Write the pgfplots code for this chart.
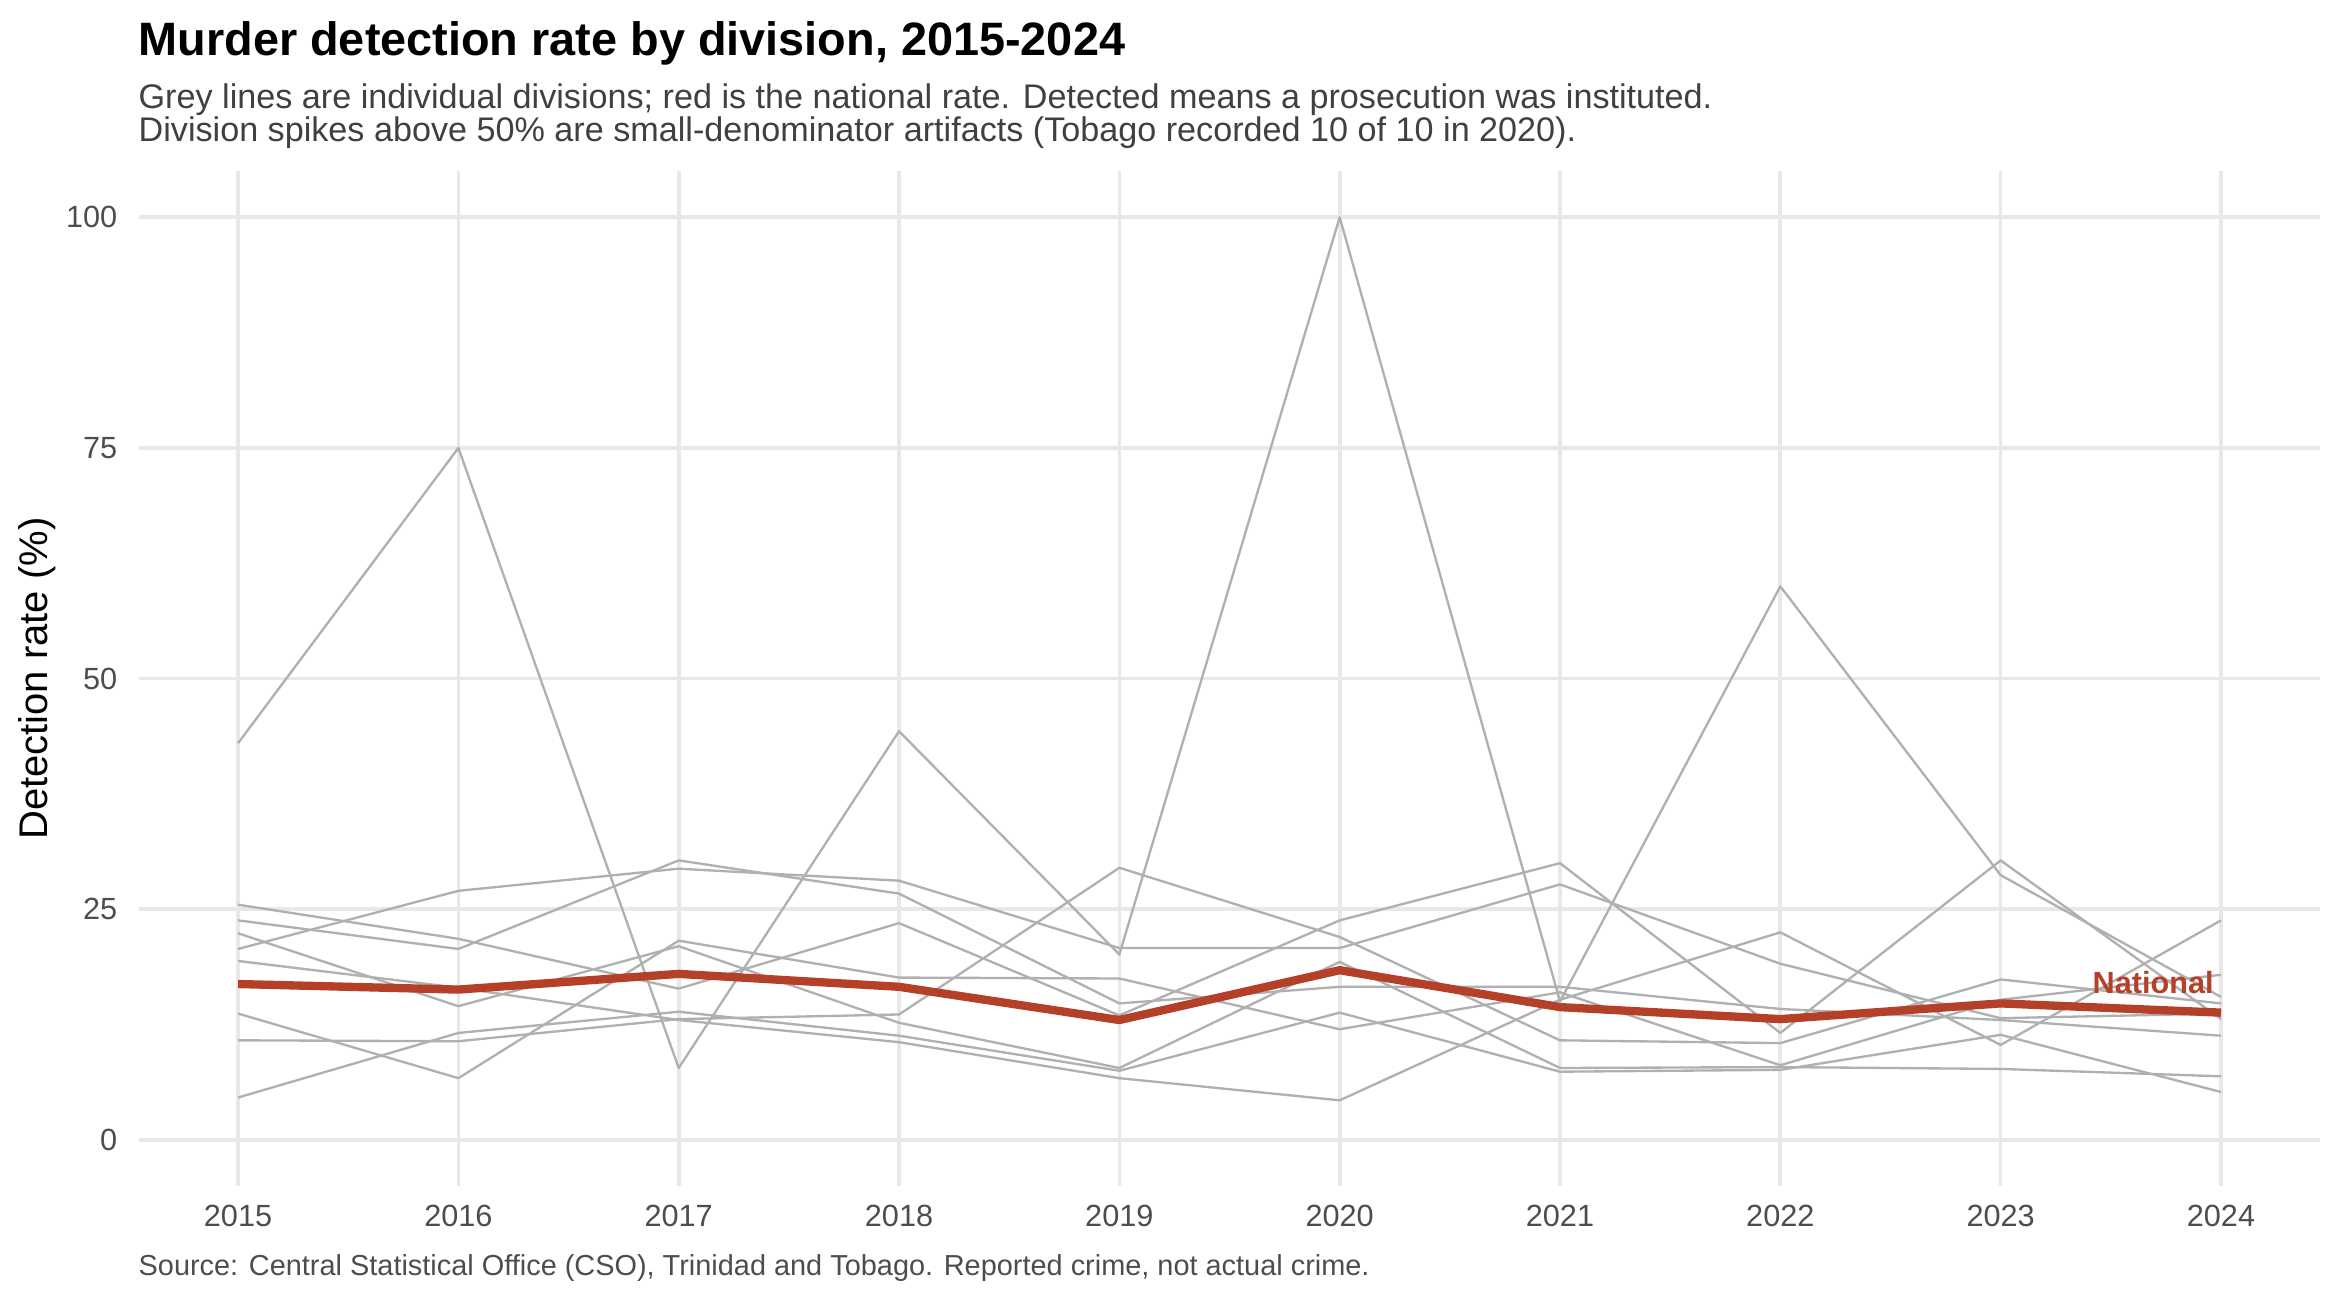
\documentclass[border=0pt]{standalone}
\usepackage{pgfplots}
\pgfplotsset{compat=1.18}
\usepackage{pgfplotstable}
\usepackage{fontspec}
\setmainfont{Liberation Sans}
\definecolor{gridc}{HTML}{E8E8E8}
\definecolor{greyl}{HTML}{B0B0B0}
\definecolor{natred}{HTML}{B5402A}
\definecolor{txtgrey}{HTML}{4D4D4D}
\definecolor{subgrey}{HTML}{404040}

\pgfplotstableread{
year T A B C D E G H I N
2015 43.0 10.8 20.7 13.7 23.8 25.5 22.4 4.6 19.4 16.9
2016 75.0 10.7 27.0 6.7 20.7 21.8 14.5 11.6 16.5 16.3
2017 7.8 13.1 29.4 21.6 30.3 16.4 21.0 13.9 13.0 18.0
2018 44.3 13.6 28.1 17.6 26.7 23.5 12.7 11.3 10.6 16.6
2019 20.1 29.5 20.8 17.5 14.8 13.5 7.8 7.5 6.7 13.0
2020 100.0 22.0 20.8 12.0 16.6 23.8 19.3 13.8 4.3 18.4
2021 15.0 10.8 27.7 16.0 16.6 30.0 7.8 7.4 15.2 14.4
2022 60.0 10.5 19.1 8.1 14.2 11.6 7.9 7.6 22.5 13.1
2023 28.7 17.4 13.2 15.2 13.0 30.3 7.7 11.4 10.3 14.8
2024 15.5 14.8 13.7 17.9 11.3 13.1 6.9 5.2 23.8 13.8
}\data

\begin{document}
\begin{tikzpicture}[x=1bp,y=1bp]
\useasboundingbox (0,0) rectangle (702,390);
\begin{axis}[
  at={(41.67bp,34.17bp)}, anchor=south west,
  scale only axis, width=654.36bp, height=304.5bp,
  xmin=2014.55, xmax=2024.45, ymin=-5, ymax=105,
  xtick={2015,2016,2017,2018,2019,2020,2021,2022,2023,2024},
  xticklabels={2015,2016,2017,2018,2019,2020,2021,2022,2023,2024},
  ytick={0,25,50,75,100},
  yticklabels={0,25,50,75,100},
  axis line style={draw=none},
  major tick length=0pt,
  tick style={draw=none},
  grid=major,
  major grid style={draw=gridc, line width=1.1bp},
  xticklabel style={font=\fontsize{9.2bp}{10bp}\selectfont, text=txtgrey, anchor=base, inner sep=0pt, yshift=-12.2bp},
  yticklabel style={font=\fontsize{9.2bp}{10bp}\selectfont, text=txtgrey, anchor=east, inner sep=0pt, xshift=-6.3bp},
  every axis plot/.append style={line join=round},
]
\pgfplotsinvokeforeach{T,A,B,C,D,E,G,H,I}{
  \addplot[greyl, line width=0.7bp] table[x=year, y=#1] {\data};
}
\addplot[natred, line width=2.5bp] table[x=year, y=N] {\data};
\node[anchor=base east, inner sep=0pt, text=natred, font=\bfseries\fontsize{9.2bp}{10bp}\selectfont] at (axis cs:2023.97,15.9) {National};
\end{axis}
\node[anchor=base west, inner sep=0pt, font=\bfseries\fontsize{14.05bp}{16bp}\selectfont] at (41.4,373.5) {Murder detection rate by division, 2015-2024};
\node[anchor=base west, inner sep=0pt, text=subgrey, font=\fontsize{10.25bp}{12bp}\selectfont] at (41.4,357.6) {Grey lines are individual divisions; red is the national rate. Detected means a prosecution was instituted.};
\node[anchor=base west, inner sep=0pt, text=subgrey, font=\fontsize{10.25bp}{12bp}\selectfont] at (41.4,347.6) {Division spikes above 50\% are small-denominator artifacts (Tobago recorded 10 of 10 in 2020).};
\node[anchor=base, inner sep=0pt, rotate=90, font=\fontsize{12bp}{14bp}\selectfont] at (14.1,186.4) {Detection rate (\%)};
\node[anchor=base west, inner sep=0pt, text=txtgrey, font=\fontsize{8.67bp}{10bp}\selectfont] at (41.4,7.5) {Source: Central Statistical Office (CSO), Trinidad and Tobago. Reported crime, not actual crime.};
\end{tikzpicture}
\end{document}
